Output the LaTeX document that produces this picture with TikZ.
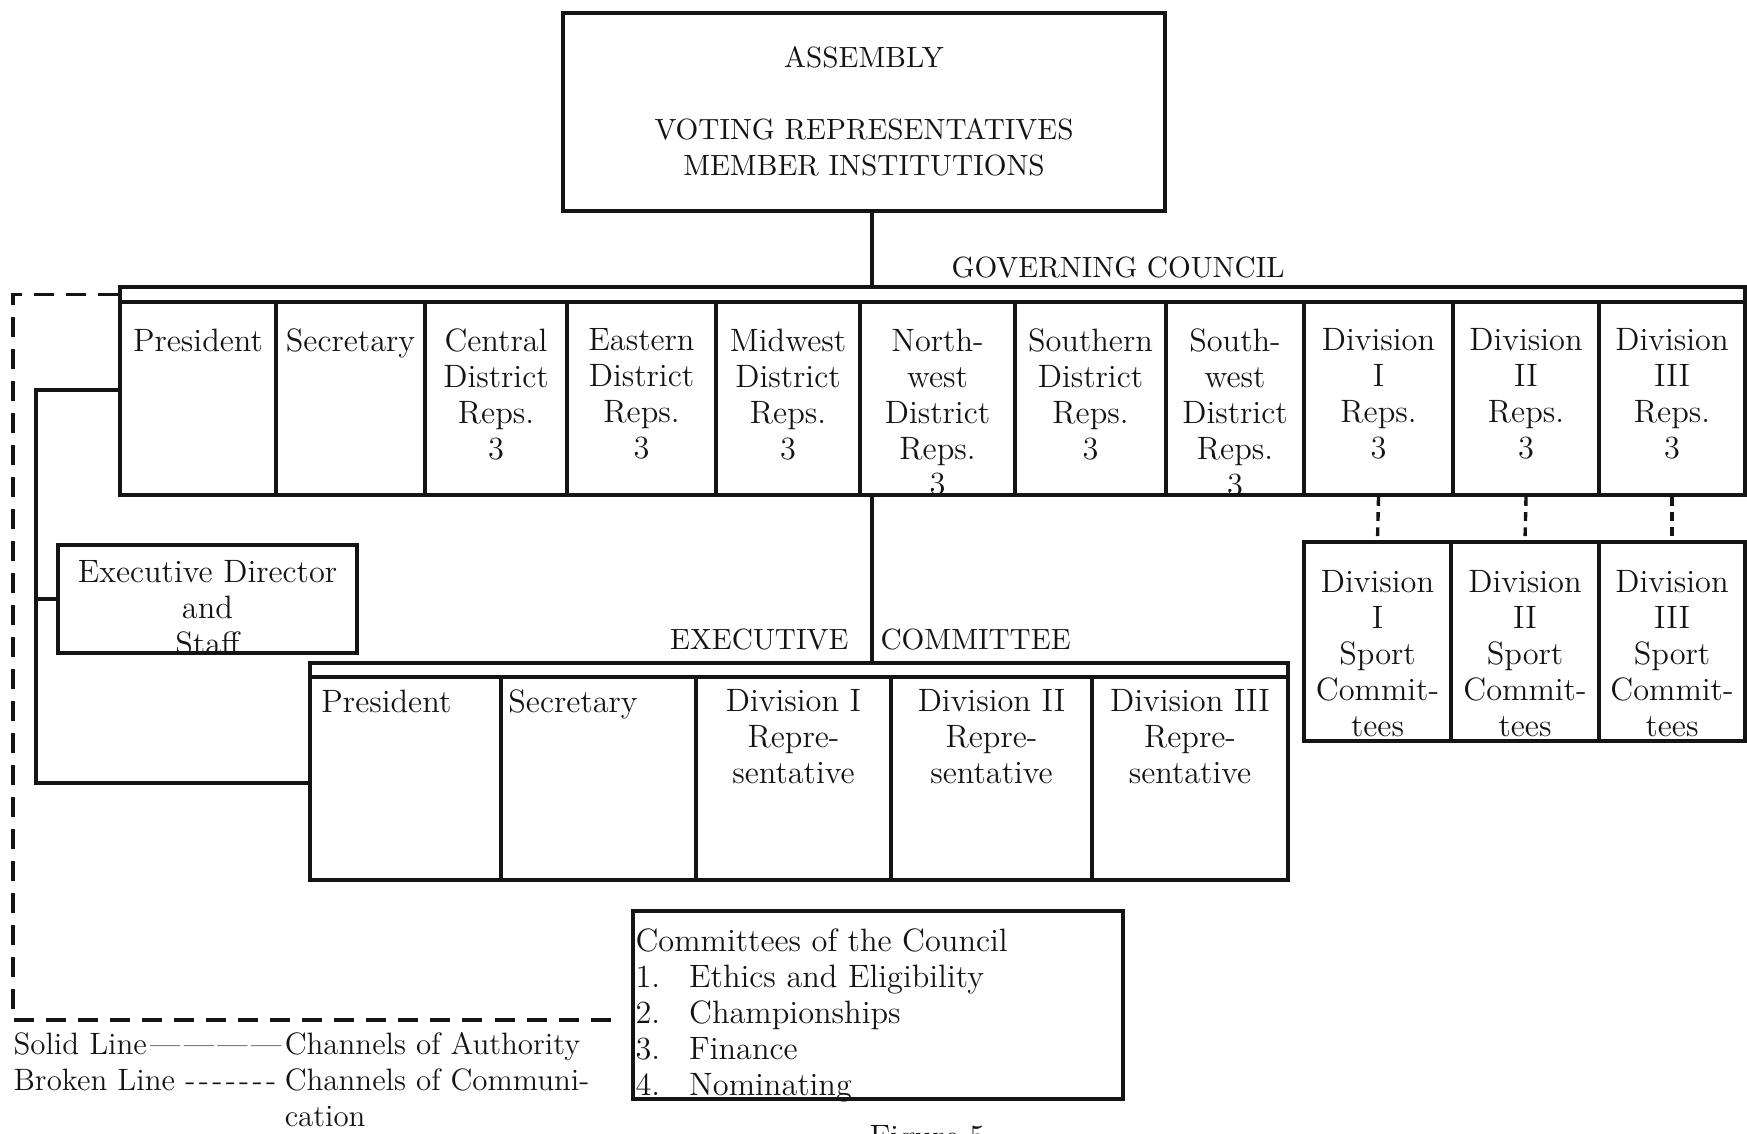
\documentclass[tikz,border=0pt]{standalone}
\usetikzlibrary{positioning,fit,calc}
\definecolor{ink}{HTML}{141414}
\newcommand\cellfont{\fontsize{11.5}{12.8}\selectfont}
\newcommand\capsfont{\fontsize{10.4}{12.8}\selectfont}
\newcommand\keyfont{\fontsize{11}{12.8}\selectfont}
\newcommand\ccitem[2]{\makebox[6.7mm][l]{#1}#2}
\tikzset{
  %% boxes
  frame/.style     = {draw=ink, line width=1.4pt, inner sep=0pt},
  cell/.style      = {frame},
  bar/.style       = {frame},
  %% texts
  celltext/.style  = {anchor=north, yshift=-#1, inner sep=0pt, align=center,
                      font=\cellfont, text=ink},
  caps/.style      = {font=\capsfont, text=ink, inner sep=0pt},
  %% lines
  authority/.style     = {draw=ink, line width=1.4pt},
  communication/.style = {draw=ink, line width=1.4pt, dash pattern=on 2.5mm off 1.5mm},
  liaison/.style       = {draw=ink, line width=1.2pt, dash pattern=on 1.1mm off 0.8mm},
}

\begin{document}
\begin{tikzpicture}[x=0.125mm, y=-0.125mm]
\useasboundingbox (0,0) rectangle (1747,1134);

%% assembly
\node[frame, fit={(563,13) (1165,211)},
      label={[caps, anchor=north, yshift=-4.4mm, align=center]north:{ASSEMBLY\\[12.8pt]VOTING REPRESENTATIVES\\MEMBER INSTITUTIONS}}] (asm) {};

%% ---- governing council ----
\node[caps, anchor=west] (gclabel) at (951,268) {GOVERNING COUNCIL};
\node[bar, fit={(120,287) (1745,302)}] (gcbar) {};
\node[cell, fit={(120,302) (276,495)}, label={[celltext=3.5mm]north:President}] (gcpres) {};
\node[cell, fit={(276,302) (425,495)}, label={[celltext=3.5mm]north:Secretary}] (gcsec) {};
\node[cell, fit={(425,302) (567,495)}, label={[celltext=3.5mm]north:{Central\\District\\Reps.\\3}}] (gccent) {};
\node[cell, fit={(567,302) (716,495)}, label={[celltext=3.5mm]north:{Eastern\\District\\Reps.\\3}}] (gceast) {};
\node[cell, fit={(716,302) (860,495)}, label={[celltext=3.5mm]north:{Midwest\\District\\Reps.\\3}}] (gcmid) {};
\node[cell, fit={(860,302) (1015,495)}, label={[celltext=3.5mm]north:{North-\\west\\District\\Reps.\\3}}] (gcnw) {};
\node[cell, fit={(1015,302) (1166,495)}, label={[celltext=3.5mm]north:{Southern\\District\\Reps.\\3}}] (gcsouth) {};
\node[cell, fit={(1166,302) (1304,495)}, label={[celltext=3.5mm]north:{South-\\west\\District\\Reps.\\3}}] (gcsw) {};
\node[cell, fit={(1304,302) (1453,495)}, label={[celltext=3.5mm]north:{Division\\I\\Reps.\\3}}] (gcdivi) {};
\node[cell, fit={(1453,302) (1599,495)}, label={[celltext=3.5mm]north:{Division\\II\\Reps.\\3}}] (gcdivii) {};
\node[cell, fit={(1599,302) (1745,495)}, label={[celltext=3.5mm]north:{Division\\III\\Reps.\\3}}] (gcdiviii) {};

%% ---- sport committees ----
\node[cell, fit={(1304,542) (1451,741)}, label={[celltext=3.75mm]north:{Division\\I\\Sport\\Commit-\\tees}}] (scdivi) {};
\node[cell, fit={(1451,542) (1599,741)}, label={[celltext=3.75mm]north:{Division\\II\\Sport\\Commit-\\tees}}] (scdivii) {};
\node[cell, fit={(1599,542) (1745,741)}, label={[celltext=3.75mm]north:{Division\\III\\Sport\\Commit-\\tees}}] (scdiviii) {};

%% executive director
\node[frame, fit={(58,545) (357,653)}, label={[celltext=2.1mm]north:{Executive Director\\and\\Staff}}] (exdir) {};

%% ---- executive committee ----
\node[caps, anchor=east] (eclabel) at (849,640) {EXECUTIVE};
\node[caps, anchor=west] (eclabelb) at (880,640) {COMMITTEE};
\node[bar, fit={(310,663) (1288,677)}] (ecbar) {};
\node[cell, fit={(310,677) (501,880)}, label={[celltext=1.75mm, anchor=north west, xshift=1.6mm]north west:President}] (ecpres) {};
\node[cell, fit={(501,677) (696,880)}, label={[celltext=1.75mm, anchor=north west, xshift=1.1mm]north west:Secretary}] (ecsec) {};
\node[cell, fit={(696,677) (891,880)}, label={[celltext=1.75mm]north:{Division I\\Repre-\\sentative}}] (ecdivi) {};
\node[cell, fit={(891,677) (1092,880)}, label={[celltext=1.75mm]north:{Division II\\Repre-\\sentative}}] (ecdivii) {};
\node[cell, fit={(1092,677) (1288,880)}, label={[celltext=1.75mm]north:{Division III\\Repre-\\sentative}}] (ecdiviii) {};

%% committees of the council
\node[frame, fit={(633,911) (1123,1099)},
      label={[celltext=2.4mm, anchor=north west, xshift=0.5mm, align=left]north west:{Committees of the Council\\
        \ccitem{1.}{Ethics and Eligibility}\\ \ccitem{2.}{Championships}\\
        \ccitem{3.}{Finance}\\ \ccitem{4.}{Nominating}}}] (ccl) {};

%% key
\node[anchor=north west, inner sep=0pt, font=\keyfont, text=ink] (key) at (13,1029)
   {\begin{tabular}{@{}l@{}l@{}}
    \hbox to 33.9mm{Solid Line\xleaders\hbox{---}\hfill} & Channels of Authority\\
    \hbox to 33.9mm{Broken Line\,\cleaders\hbox{-\kern1.2pt}\hfill} & Channels of Communi-\\
    & cation
    \end{tabular}};
\node[anchor=north west, inner sep=0pt, font=\cellfont, text=ink] (fig) at (869,1125) {Figure 5};

%% authority lines
\coordinate (spine) at (872,0);
\coordinate (authtop) at (36,390);
\coordinate (authbot) at (36,783);
\draw[authority] (asm.south -| spine) -- (gcbar.north -| spine);
\draw[authority] (gcnw.south -| spine) -- (ecbar.north -| spine);
\draw[authority] (gcpres.west |- authtop) -- (authtop) -- (authbot) -- (ecpres.west |- authbot);
\draw[authority] (authtop |- exdir.west) -- (exdir.west);

%% communication lines
\coordinate (commcorner) at (13,1020);
\draw[communication, shorten >=2.5mm] (gcbar.west) -| (commcorner) -- (ccl.west |- commcorner);
\draw[liaison] (gcdivi.south) -- (scdivi.north);
\draw[liaison] (gcdivii.south) -- (scdivii.north);
\draw[liaison] (gcdiviii.south) -- (scdiviii.north);

\end{tikzpicture}
\end{document}
